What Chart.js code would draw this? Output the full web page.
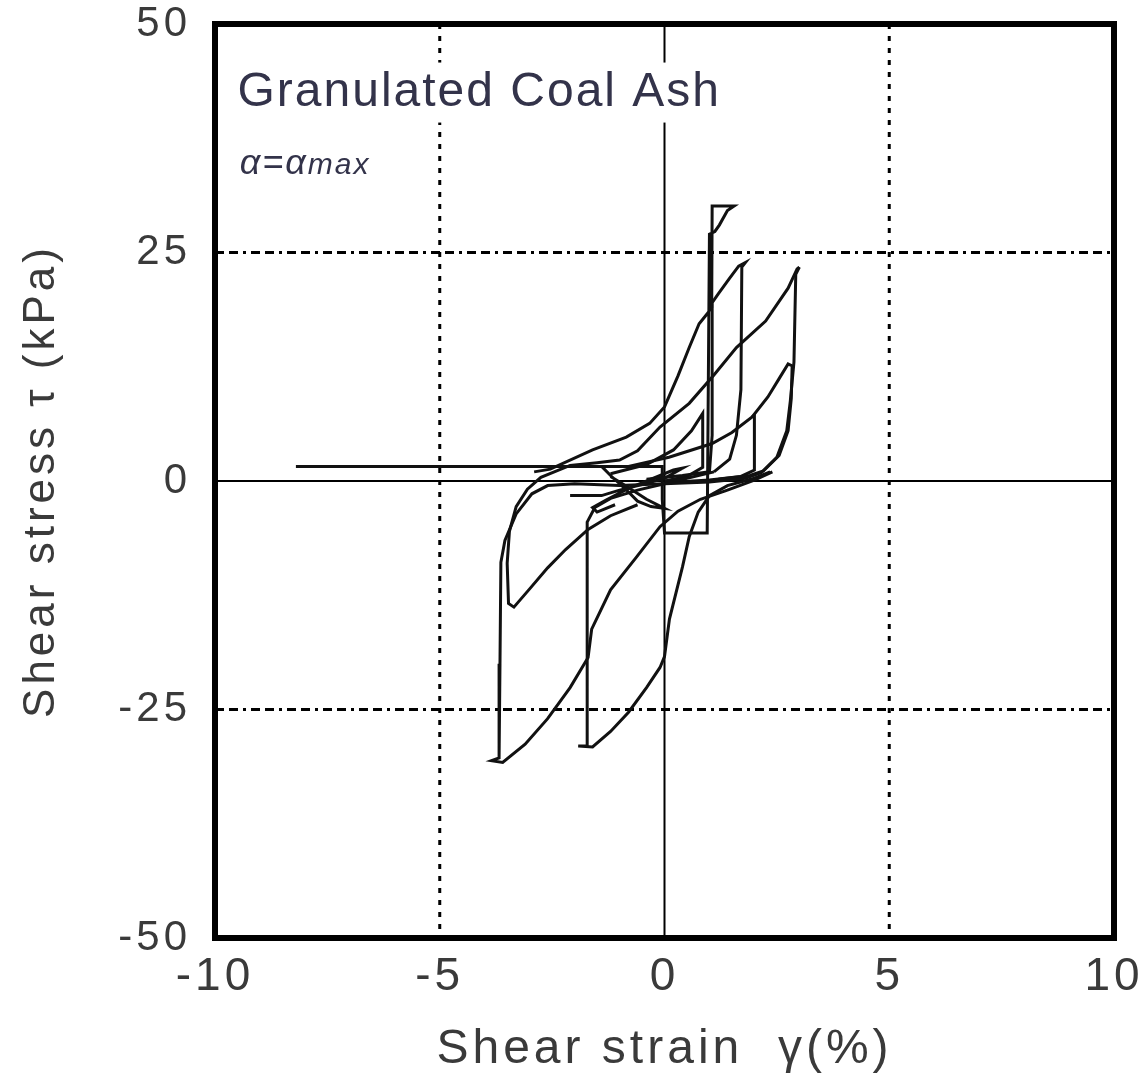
<!DOCTYPE html>
<html>
<head>
<meta charset="utf-8">
<script src="https://cdn.jsdelivr.net/npm/chart.js@4.4.1/dist/chart.umd.min.js"></script>
<style>
html,body{margin:0;padding:0;background:#fff;}
#wrap{width:1142px;height:1083px;}
</style>
</head>
<body>
<div id="wrap"><canvas id="c" width="1142" height="1083"></canvas></div>
<script>
// ---- axis ticks and grid values ----
const xTicks = [-10, -5, 0, 5, 10];
const yTicks = [-50, -25, 0, 25, 50];
const xGridDotted = [-5, 5];
const yGridDashDot = [-25, 25];

// ---- traced hysteresis paths: [strain %, stress kPa] ----
const cycleA = [[3.0,23.4],[2.92,22.6],[2.88,13.0],[2.8,8.8],[2.72,5.5],[2.5,2.6],[2.15,0.9],[1.8,0.3],[1.0,-0.1],[0,-0.3],[-1.0,-0.5],[-2.0,-0.3],[-2.6,-0.5],[-2.95,-1.4],[-3.3,-3.6],[-3.55,-6.5],[-3.64,-8.9],[-3.66,-20.0],[-3.68,-30.3],[-3.85,-30.6],[-3.6,-30.8],[-3.1,-28.8],[-2.6,-26.0],[-2.1,-22.6],[-1.7,-19.3],[-1.62,-16.2],[-1.2,-11.9],[-0.62,-8.3],[-0.1,-5.0],[0.3,-3.3],[0.8,-2.0],[1.4,-1.0],[2.0,0.1],[2.4,1.0]];
const cycleB = [[-0.6,-2.6],[-1.2,-3.8],[-1.7,-5.3],[-2.2,-7.5],[-2.6,-9.5],[-3.0,-11.8],[-3.35,-13.8],[-3.47,-13.4],[-3.5,-9.0],[-3.45,-5.5],[-3.3,-2.8],[-3.05,-0.9],[-2.75,0.4],[-2.1,1.7],[-1.5,2.0],[-1.0,2.3],[-0.6,3.3],[-0.1,5.9],[0.55,8.5],[1.1,11.6],[1.6,14.6],[2.25,17.5],[2.75,21.1],[2.95,23.2],[3.0,23.4]];
const cycleC = [[1.1,1.0],[0.5,0.3],[0,-0.3],[-0.6,-1.0],[-1.2,-1.9],[-1.55,-2.9],[-1.72,-4.5],[-1.72,-17.0],[-1.72,-29.0],[-1.92,-29.0],[-1.6,-29.1],[-1.2,-27.4],[-0.8,-25.3],[-0.4,-22.6],[-0.1,-20.4],[0,-19.2],[0.11,-15.1],[0.4,-9.4],[0.55,-6.1],[0.75,-3.4],[1.0,-1.6],[1.4,-0.5],[2.0,0.3],[2.35,1.0]];
const cycleP2 = [[-0.4,0.2],[0.4,0.6],[1.0,1.0],[1.06,5.0],[1.06,19.5],[1.2,20.5],[1.45,22.2],[1.65,23.5],[1.8,23.9],[1.72,23.4],[1.7,10.0],[1.6,5.0],[1.45,2.4],[1.1,1.0]];
const cycleFinal = [[-2.9,1.0],[-2.54,1.3],[-1.6,3.4],[-0.85,4.8],[-0.33,6.3],[0,8.1],[0.3,11.5],[0.55,14.6],[0.77,17.2],[0.95,18.3],[1.05,19.0],[1.06,30.1],[1.55,30.1],[1.4,29.6],[1.22,28.0],[1.12,27.3],[1.0,27.0],[0.95,-5.7],[0,-5.7],[-0.05,-2.0],[-0.05,1.6],[-8.2,1.6]];
const cycleP4 = [[-0.8,1.6],[0.1,2.6],[1.06,4.1],[1.5,5.3],[1.95,7.0],[2.3,9.2],[2.55,11.2],[2.75,12.8],[2.84,12.6],[2.82,9.0],[2.75,5.5],[2.55,2.8],[2.2,1.1],[1.9,0.6],[1.2,0.2]];
const cycleP5 = [[1.95,7.0],[2.0,7.2],[2.0,1.2],[1.7,0.5],[1.0,0.1],[0,-0.2]];
const cycleP6 = [[-1.2,0.8],[-0.4,1.8],[0.2,3.4],[0.6,5.5],[0.85,7.4],[0.85,1.5],[0.5,0.5],[0,0]];
const cycleC1 = [[-2.1,-1.6],[-1.4,-1.6],[-1.0,-1.0],[-0.5,-0.4],[0,0.3],[0.4,1.4],[0.2,1.2],[-0.3,0.2],[-0.8,-0.8],[-1.3,-2.1],[-1.6,-2.9],[-1.5,-3.4],[-1.1,-2.6]];
const cycleC2 = [[-1.4,1.6],[-1.2,0.6],[-1.0,-0.3],[-0.8,-1.2],[-0.6,-2.2],[-0.3,-2.8],[0,-3.0],[-0.4,-2.0],[-0.9,-0.4],[-1.2,0.5]];

const paths = [cycleA, cycleB, cycleC, cycleP2, cycleFinal, cycleP4, cycleP5, cycleP6, cycleC1, cycleC2];

const TXT = '#3a3a3a';
const FONT = "'Liberation Sans', Arial, sans-serif";

const customDraw = {
  id: 'customDraw',
  beforeDraw(chart) {
    const c = chart.ctx;
    c.save(); c.fillStyle = '#fff'; c.fillRect(0, 0, chart.width, chart.height); c.restore();
    c.letterSpacing = '4px';
  },
  beforeDatasetsDraw(chart) {
    const {ctx, chartArea: a, scales: {x, y}} = chart;
    ctx.save();
    ctx.letterSpacing = '0px';
    ctx.strokeStyle = '#000';
    ctx.lineWidth = 3;
    ctx.setLineDash([5, 7]);
    xGridDotted.forEach(v => {
      const px = x.getPixelForValue(v);
      ctx.beginPath(); ctx.moveTo(px, a.top); ctx.lineTo(px, a.bottom); ctx.stroke();
    });
    ctx.setLineDash([9, 5, 9, 5, 3, 5]);
    yGridDashDot.forEach(v => {
      const py = y.getPixelForValue(v);
      ctx.beginPath(); ctx.moveTo(a.left, py); ctx.lineTo(a.right, py); ctx.stroke();
    });
    ctx.setLineDash([]);
    ctx.lineWidth = 2;
    const x0 = x.getPixelForValue(0), y0 = y.getPixelForValue(0);
    ctx.beginPath(); ctx.moveTo(x0, a.top); ctx.lineTo(x0, a.bottom); ctx.stroke();
    ctx.beginPath(); ctx.moveTo(a.left, y0); ctx.lineTo(a.right, y0); ctx.stroke();

    // annotation text
    const tx = x.getPixelForValue(-9.5), ty = y.getPixelForValue(42.5);
    ctx.font = '48px ' + FONT;
    ctx.letterSpacing = '2px';
    const tw = ctx.measureText('Granulated Coal Ash').width;
    ctx.fillStyle = '#fff';
    ctx.fillRect(tx - 5, ty - 30, tw + 10, 60);
    ctx.fillStyle = '#33334a';
    ctx.textBaseline = 'middle';
    ctx.textAlign = 'left';
    ctx.fillText('Granulated Coal Ash', tx, ty);

    const ax = x.getPixelForValue(-9.45), ay = y.getPixelForValue(34.8);
    ctx.letterSpacing = '2px';
    ctx.font = 'italic 36px ' + FONT;
    ctx.textBaseline = 'alphabetic';
    let cx = ax;
    ctx.fillText('α=α', cx, ay + 11);
    cx += ctx.measureText('α=α').width;
    ctx.font = 'italic 30px ' + FONT;
    ctx.fillText('max', cx, ay + 11);
    ctx.restore();
  },
  afterDatasetsDraw(chart) {
    const {ctx, chartArea: a} = chart;
    ctx.save();
    ctx.strokeStyle = '#000';
    ctx.lineWidth = 6;
    ctx.setLineDash([]);
    ctx.strokeRect(a.left, a.top, a.right - a.left, a.bottom - a.top);
    ctx.restore();
    ctx.letterSpacing = '2px';
  },
  afterDraw(chart) { chart.ctx.letterSpacing = '0px'; }
};

new Chart(document.getElementById('c'), {
  type: 'scatter',
  data: {
    datasets: paths.map(p => ({
      data: p.map(([px, py]) => ({x: px, y: py})),
      showLine: true,
      borderColor: '#111',
      borderWidth: 3,
      pointRadius: 0,
      fill: false,
      tension: 0
    }))
  },
  options: {
    responsive: false,
    animation: false,
    devicePixelRatio: 1,
    layout: {padding: {top: 24, right: 28, bottom: 0, left: 0}},
    plugins: {legend: {display: false}, tooltip: {enabled: false}},
    scales: {
      x: {
        type: 'linear', min: -10, max: 10, position: 'bottom', z: 1,
        afterBuildTicks: s => { s.ticks = xTicks.map(v => ({value: v})); },
        afterFit: s => { s.height = 145; s.paddingLeft = 0; s.paddingRight = 0; },
        grid: {display: false, drawTicks: false},
        border: {display: false},
        ticks: {font: {family: FONT, size: 46}, color: TXT, padding: 12, maxRotation: 0, autoSkip: false},
        title: {display: true, text: 'Shear strain  γ(%)', font: {family: FONT, size: 48}, color: TXT, padding: {top: 0, bottom: 4}}
      },
      y: {
        type: 'linear', min: -50, max: 50, position: 'left',
        afterBuildTicks: s => { s.ticks = yTicks.map(v => ({value: v})); },
        afterFit: s => { s.width = 215; s.paddingTop = 0; s.paddingBottom = 0; },
        grid: {display: false, drawTicks: false},
        border: {display: false},
        ticks: {font: {family: FONT, size: 42, lineHeight: 1.0}, color: TXT, padding: 24, autoSkip: false},
        title: {display: true, text: 'Shear stress τ (kPa)', font: {family: FONT, size: 44}, color: TXT, padding: {top: 15, bottom: 0}}
      }
    }
  },
  plugins: [customDraw]
});
</script>
</body>
</html>
